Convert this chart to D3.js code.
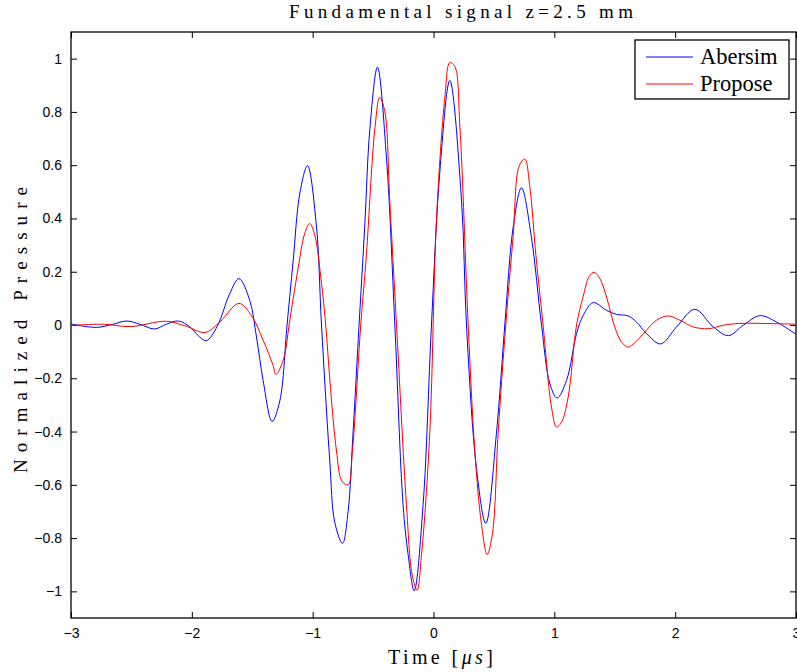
<!DOCTYPE html>
<html>
<head>
<meta charset="utf-8">
<script src="https://cdn.jsdelivr.net/npm/d3@7"></script>
<style>
	body { margin: 0; background: #fff; }
	.tick text { font-family: "Liberation Sans", Arial, sans-serif; font-size: 14px; fill: #000; }
	.serif { font-family: "Liberation Serif", "DejaVu Serif", serif; fill: #000; }
</style>
</head>
<body>
<svg id="chart" width="797" height="672"></svg>
<script>
// time axis in microseconds
const abersimTime = [-3.0, -2.79, -2.652, -2.54, -2.431, -2.31, -2.21, -2.11, -2.017, -1.935, -1.88, -1.79, -1.686, -1.61,
	-1.521, -1.465, -1.41, -1.336, -1.272, -1.212, -1.162, -1.107, -1.043, -0.969, -0.927, -0.858, -0.817, -0.753,
	-0.707, -0.666, -0.616, -0.569, -0.527, -0.464, -0.389, -0.32, -0.252, -0.21, -0.16, -0.086, -0.017, 0.052,
	0.135, 0.232, 0.273, 0.356, 0.433, 0.521, 0.59, 0.66, 0.728, 0.81, 0.894, 0.963, 1.023, 1.101, 1.184, 1.239,
	1.321, 1.432, 1.515, 1.611, 1.68, 1.763, 1.879, 2.012, 2.163, 2.315, 2.44, 2.563, 2.70, 2.84, 3.0];
const abersimValues = [0.004, -0.009, 0.003, 0.015, 0.003, -0.015, 0.003, 0.015, -0.007, -0.045, -0.059, -0.005, 0.118, 0.174,
	0.093, -0.045, -0.208, -0.362, -0.285, 0.0, 0.238, 0.492, 0.598, 0.372, 0.0, -0.513, -0.741, -0.82,
	-0.701, -0.406, 0.0, 0.372, 0.734, 0.968, 0.626, 0.0, -0.674, -0.862, -0.998, -0.674, 0.0, 0.573,
	0.918, 0.466, 0.0, -0.54, -0.745, -0.406, 0.0, 0.37, 0.515, 0.33, 0.0, -0.22, -0.274, -0.208, -0.032, 0.036,
	0.084, 0.055, 0.04, 0.034, 0.011, -0.032, -0.071, -0.007, 0.059, -0.007, -0.04, -0.001, 0.035, 0.011, -0.035];

const proposeTime = [-3.0, -2.735, -2.51, -2.21, -2.045, -1.89, -1.769, -1.61, -1.507, -1.41, -1.328, -1.305, -1.272,
	-1.231, -1.195, -1.121, -1.065, -1.024, -0.983, -0.927, -0.892, -0.858, -0.803, -0.757, -0.707, -0.671, -0.602,
	-0.555, -0.486, -0.445, -0.403, -0.362, -0.306, -0.224, -0.177, -0.136, -0.099, -0.031, 0.025, 0.094, 0.135,
	0.176, 0.218, 0.287, 0.342, 0.397, 0.444, 0.488, 0.535, 0.598, 0.659, 0.709, 0.756, 0.797, 0.847, 0.907,
	0.977, 1.018, 1.06, 1.114, 1.184, 1.239, 1.288, 1.33, 1.377, 1.432, 1.50, 1.556, 1.611, 1.652, 1.749, 1.846,
	1.942, 2.039, 2.149, 2.273, 2.397, 2.536, 2.81, 3.0];
const proposeValues = [-0.002, 0.003, -0.006, 0.014, -0.005, -0.028, 0.011, 0.081, 0.036, -0.057, -0.151, -0.186, -0.165,
	-0.111, 0.0, 0.211, 0.345, 0.381, 0.338, 0.157, 0.0, -0.205, -0.473, -0.587, -0.6, -0.473, 0.0,
	0.264, 0.734, 0.855, 0.801, 0.466, 0.0, -0.674, -0.936, -0.996, -0.862, -0.406, 0.398, 0.855, 0.985,
	0.971, 0.747, 0.0, -0.473, -0.748, -0.862, -0.782, -0.406, 0.0, 0.332, 0.597, 0.623, 0.519, 0.264, 0.0,
	-0.31, -0.383, -0.364, -0.272, 0.0, 0.108, 0.182, 0.198, 0.174, 0.105, -0.007, -0.064, -0.083, -0.072, -0.026, 0.018,
	0.034, 0.018, -0.007, -0.014, -0.001, 0.006, 0.005, 0.003];

const xTicks = [-3, -2, -1, 0, 1, 2, 3];
const yTicks = [-1, -0.8, -0.6, -0.4, -0.2, 0, 0.2, 0.4, 0.6, 0.8, 1];
const seriesNames = ["Abersim", "Propose"];
const seriesColors = ["#0000ff", "#ff0000"];

function drawChart() {
	var svg = d3.select("#chart"),
		margin = {top: 32, right: 1, bottom: 54, left: 71},
		width = +svg.attr("width") - margin.left - margin.right,
		height = +svg.attr("height") - margin.top - margin.bottom,
		g = svg.append("g").attr("transform", "translate(" + margin.left + "," + margin.top + ")");

	var x = d3.scaleLinear().domain([-3, 3]).range([0, width]);
	var y = d3.scaleLinear().domain([-1.1, 1.1]).range([height, 0]);
	var fmt = d3.format("~g");

	// axes, ticks pointing inward like matlab
	g.append("g")
		.attr("transform", "translate(0," + height + ")")
		.call(d3.axisBottom(x).tickValues(xTicks).tickFormat(fmt).tickSizeInner(-6).tickSizeOuter(0).tickPadding(10));
	g.append("g")
		.call(d3.axisTop(x).tickValues(xTicks).tickFormat("").tickSizeInner(-6).tickSizeOuter(0));
	g.append("g")
		.call(d3.axisLeft(y).tickValues(yTicks).tickFormat(fmt).tickSizeInner(-6).tickSizeOuter(0).tickPadding(9));
	g.append("g")
		.attr("transform", "translate(" + width + ",0)")
		.call(d3.axisRight(y).tickValues(yTicks).tickFormat("").tickSizeInner(-6).tickSizeOuter(0));
	g.selectAll(".domain").remove();
	g.selectAll(".tick line").attr("stroke", "#000");

	g.append("rect")
		.attr("width", width)
		.attr("height", height)
		.attr("fill", "none")
		.attr("stroke", "#000")
		.attr("stroke-width", 1.3);

	var line = d3.line()
		.x(function(d) { return x(d[0]); })
		.y(function(d) { return y(d[1]); })
		.curve(d3.curveCatmullRom.alpha(0.5));

	g.append("defs").append("clipPath")
		.attr("id", "clip")
		.append("rect")
		.attr("width", width)
		.attr("height", height);

	var series = [d3.zip(abersimTime, abersimValues), d3.zip(proposeTime, proposeValues)];
	g.append("g")
		.attr("clip-path", "url(#clip)")
		.selectAll("path")
		.data(series)
		.join("path")
		.attr("d", line)
		.attr("fill", "none")
		.attr("stroke", (d, i) => seriesColors[i])
		.attr("stroke-width", 1);

	// titles, spread out like the latex labels
	svg.append("text")
		.attr("class", "serif")
		.attr("x", 289)
		.attr("y", 18)
		.attr("textLength", 344)
		.attr("lengthAdjust", "spacing")
		.style("font-size", "19px")
		.text("Fundamental signal z=2.5 mm");

	var xl = svg.append("text")
		.attr("class", "serif")
		.attr("x", 388)
		.attr("y", 664)
		.attr("textLength", 105)
		.attr("lengthAdjust", "spacing")
		.style("font-size", "20px");
	xl.append("tspan").text("Time [");
	xl.append("tspan").style("font-style", "italic").text("μs");
	xl.append("tspan").text("]");

	svg.append("text")
		.attr("class", "serif")
		.attr("transform", "translate(27,473) rotate(-90)")
		.attr("textLength", 286)
		.attr("lengthAdjust", "spacing")
		.style("font-size", "19px")
		.text("Normalized Pressure");

	// legend
	var lg = svg.append("g").attr("transform", "translate(635,40)");
	lg.append("rect")
		.attr("width", 154)
		.attr("height", 59)
		.attr("fill", "#fff")
		.attr("stroke", "#000")
		.attr("stroke-width", 1.3);
	var item = lg.selectAll(".item")
		.data(seriesNames)
		.join("g")
		.attr("class", "item")
		.attr("transform", (d, i) => "translate(0," + (17 + i * 27) + ")");
	item.append("line")
		.attr("x1", 11)
		.attr("x2", 58)
		.attr("stroke", (d, i) => seriesColors[i])
		.attr("stroke-width", 1);
	item.append("text")
		.attr("class", "serif")
		.attr("x", 65)
		.attr("y", 7)
		.style("font-size", "22.5px")
		.text(d => d);
}

window.addEventListener("load", drawChart);
</script>
</body>
</html>
